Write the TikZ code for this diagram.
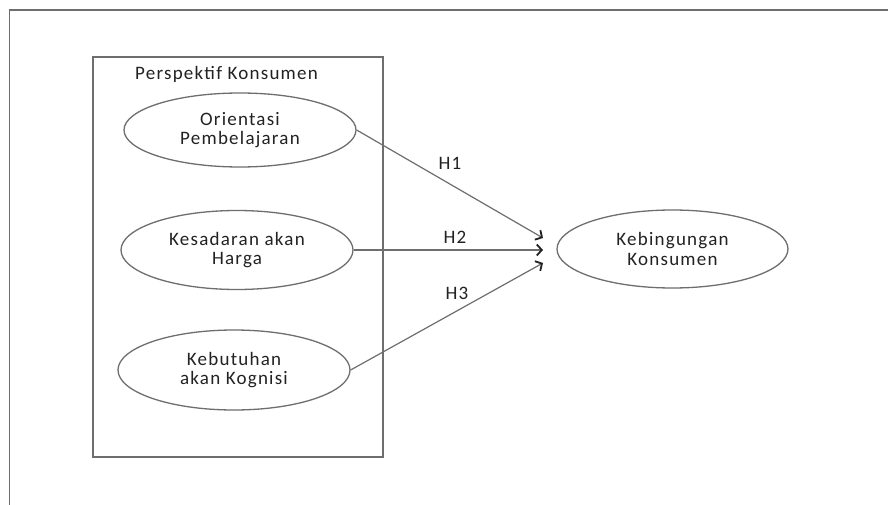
\documentclass[tikz,border=0pt]{standalone}
\usepackage{fontspec}
\setmainfont[LetterSpace=6.5]{Carlito}
\usetikzlibrary{arrows.meta,shapes.geometric}
\definecolor{lc}{HTML}{6E6E6E}
\definecolor{tc}{HTML}{222222}
\tikzset{
  construct/.style={ellipse, draw=lc, line width=1.3pt, minimum width=#1, align=center, text=tc, font=\fontsize{19}{19.5}\selectfont, inner sep=0pt},
  construct/.default=232pt,
  hyp/.style={draw=lc, line width=1.2pt, -{Straight Barb[length=5pt,width=11pt,line width=1.8pt,color=tc]}},
  hlabel/.style={text=tc, font=\fontsize{19}{19.5}\selectfont},
}
\begin{document}
\begin{tikzpicture}[x=1pt,y=-1pt]
\useasboundingbox (0,0) rectangle (888,505);
\fill[white] (0,0) rectangle (888,505);
% outer frame
\draw[lc, line width=1.2pt] (888,10) -- (9.5,10) -- (9.5,505);
% inner group box
\node[draw=lc, line width=1.2pt, minimum width=290pt, minimum height=400pt, inner sep=0pt] (grp) at (238,257) {};
\node[hlabel] (title) at (226.5,74) {Perspektif Konsumen};
\node[construct, minimum height=74pt] (o) at (240,130) {Orientasi\\Pembelajaran};
\node[construct, minimum height=79pt] (k) at (237,250) {Kesadaran akan\\Harga};
\node[construct, minimum height=80pt] (b) at (234,370) {Kebutuhan\\akan Kognisi};
\node[construct=231pt, minimum height=78pt] (kk) at (672.5,249) {Kebingungan\\Konsumen};
\coordinate (e1) at (543,238);
\coordinate (e2) at (543,250);
\coordinate (e3) at (543,263);
\draw[hyp] (o.east) -- (e1);
\draw[hyp] (k.east) -- (e2);
\draw[hyp] (b.east) -- (e3);
\node[hlabel] (h1) at (450,163) {H1};
\node[hlabel] (h2) at (455,237) {H2};
\node[hlabel] (h3) at (457,293) {H3};
\end{tikzpicture}
\end{document}
